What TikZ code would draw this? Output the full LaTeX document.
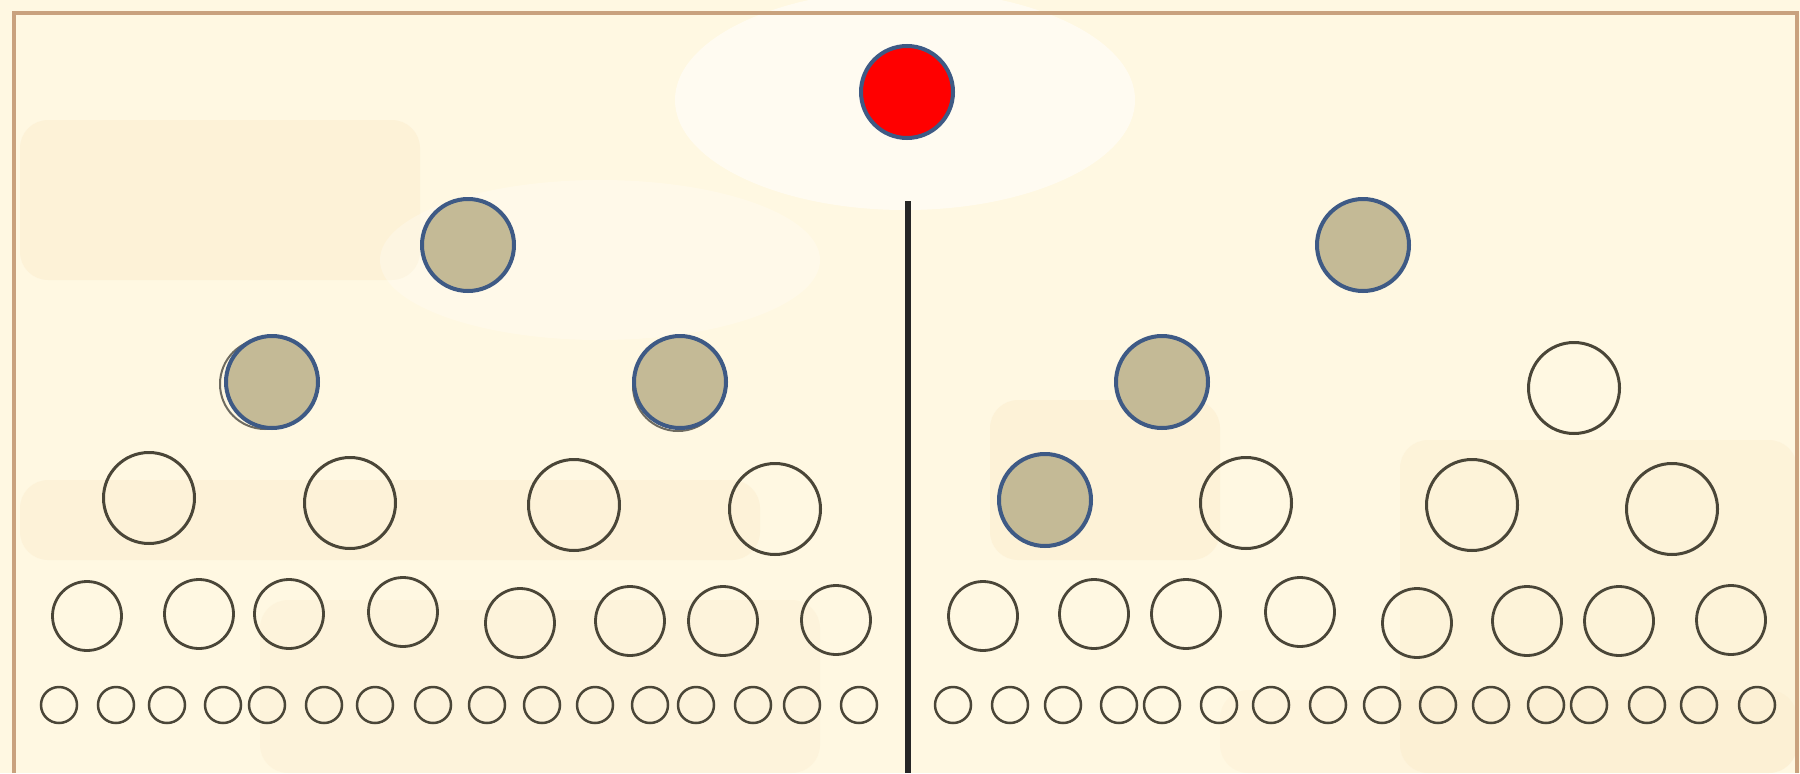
\documentclass[tikz,border=0pt]{standalone}
\usetikzlibrary{positioning}
\definecolor{cream}{HTML}{FFF8E2}
\definecolor{peach}{HTML}{F7DDB4}
\definecolor{frame}{HTML}{C9A27E}
\definecolor{ring}{HTML}{4A4638}
\definecolor{navy}{HTML}{3E5A85}
\definecolor{taupe}{HTML}{C4BA96}
\definecolor{hotred}{HTML}{FF0000}

\tikzset{
  big/.style={circle, draw=ring, line width=0.3mm, minimum size=9.1mm, inner sep=0pt},
  mid/.style={circle, draw=ring, line width=0.28mm, minimum size=6.9mm, inner sep=0pt},
  tiny/.style={circle, draw=ring, line width=0.25mm, minimum size=3.6mm, inner sep=0pt},
  shaded/.style={circle, draw=navy, fill=taupe, line width=0.4mm, minimum size=9.2mm, inner sep=0pt},
  root/.style={circle, draw=navy, fill=hotred, line width=0.4mm, minimum size=9.2mm, inner sep=0pt},
  ghost/.style={circle, draw=ring!80, line width=0.2mm, minimum size=9.0mm, inner sep=0pt},
  patch/.style={fill=peach, rounded corners=8pt}
}

\begin{document}
\begin{tikzpicture}[x=0.1mm, y=-0.1mm]

% Background
\useasboundingbox (0,0) rectangle (1800,773);
\fill[cream] (0,0) rectangle (1800,773);
\fill[patch, opacity=0.22] (20,120) rectangle (420,280);
\fill[patch, opacity=0.20] (20,480) rectangle (760,560);
\fill[patch, opacity=0.15] (260,600) rectangle (820,773);
\fill[patch, opacity=0.22] (990,400) rectangle (1220,560);
\fill[patch, opacity=0.18] (1400,440) rectangle (1797,773);
\fill[patch, opacity=0.12] (1220,690) rectangle (1797,773);
\fill[white, opacity=0.55] (905,100) ellipse (230 and 110);
\fill[white, opacity=0.25] (600,260) ellipse (220 and 80);

% Frame
\draw[frame, line width=0.35mm] (14,773) -- (14,13) -- (1797,13) -- (1797,773);

% Root
\node[root] (top) at (907,92) {};

% Divider
\coordinate (divtop) at (908,201);
\coordinate (divbot) at (908,773);
\draw[black!85, line width=0.6mm] (divtop) -- (divbot);

% Level 1
\node[shaded] (la) at (468,245) {};
\node[shaded] (ra) at (1363,245) {};

% Level 2
\node[ghost] (lbx) at (265,384) {};
\node[shaded] (lb1) at (272,382) {};
\node[ghost] (lby) at (678,386) {};
\node[shaded] (lb2) at (680,382) {};
\node[shaded] (rb1) at (1162,382) {};
\node[big] (rb2) at (1574,388) {};

% Level 3
\node[big] (lc1) at (149,498) {};
\node[big] (lc2) at (350,503) {};
\node[big] (lc3) at (574,505) {};
\node[big] (lc4) at (775,509) {};
\node[shaded] (rc1) at (1045,500) {};
\node[big] (rc2) at (1246,503) {};
\node[big] (rc3) at (1472,505) {};
\node[big] (rc4) at (1672,509) {};

% Level 4
\foreach \x/\y [count=\i] in {87/616, 199/614, 289/614, 403/612, 520/623, 630/621, 723/621, 836/620}
  \node[mid] (ld\i) at (\x,\y) {};
\foreach \x/\y [count=\i] in {983/616, 1094/614, 1186/614, 1300/612, 1417/623, 1527/621, 1619/621, 1731/620}
  \node[mid] (rd\i) at (\x,\y) {};

% Level 5
\foreach \x [count=\i] in {59,116,167,223,267,324,375,433,487,542,595,650,696,753,802,859}
  \node[tiny] (le\i) at (\x,705) {};
\foreach \x [count=\i] in {953,1010,1063,1119,1162,1219,1271,1328,1382,1438,1491,1546,1589,1647,1699,1757}
  \node[tiny] (re\i) at (\x,705) {};

\end{tikzpicture}
\end{document}
